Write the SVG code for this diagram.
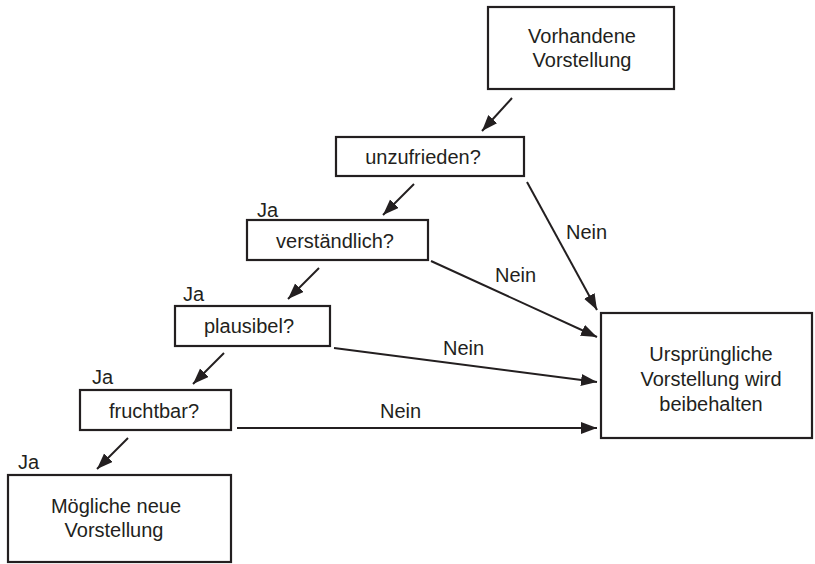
<svg xmlns="http://www.w3.org/2000/svg" width="815" height="564" viewBox="0 0 815 564">
<defs>
<marker id="ah" markerUnits="userSpaceOnUse" markerWidth="17" markerHeight="13" refX="16" refY="6" orient="auto">
<path d="M0,0 L16,6 L0,12 z" fill="#231f20"/>
</marker>
<style>
.box{fill:#fff;stroke:#231f20;stroke-width:2.2}
.t{font-family:"Liberation Sans",Arial,sans-serif;font-size:20px;fill:#231f20;text-anchor:middle}
.l{font-family:"Liberation Sans",Arial,sans-serif;font-size:20px;fill:#231f20}
.c{stroke:#231f20;stroke-width:2;fill:none;marker-end:url(#ah)}
</style>
</defs>
<rect width="815" height="564" fill="#fff"/>
<g id="vorhandene">
<rect class="box" x="488" y="7" width="186" height="82"/>
<text class="t" x="582" y="43">Vorhandene</text>
<text class="t" x="582" y="67">Vorstellung</text>
</g>
<g id="unzufrieden">
<rect class="box" x="336" y="137" width="188" height="39"/>
<text class="t" x="423" y="164">unzufrieden?</text>
</g>
<g id="verstaendlich">
<rect class="box" x="247" y="220" width="181" height="40"/>
<text class="l" x="257" y="217">Ja</text>
<text class="t" x="335" y="248">verständlich?</text>
</g>
<g id="plausibel">
<rect class="box" x="175" y="306" width="155" height="40"/>
<text class="l" x="183" y="301">Ja</text>
<text class="t" x="249" y="333">plausibel?</text>
</g>
<g id="fruchtbar">
<rect class="box" x="80" y="390" width="151" height="40"/>
<text class="l" x="92" y="384">Ja</text>
<text class="t" x="154" y="418">fruchtbar?</text>
</g>
<g id="moegliche">
<rect class="box" x="8" y="475" width="223" height="87"/>
<text class="l" x="18" y="469">Ja</text>
<text class="t" x="116" y="513">Mögliche neue</text>
<text class="t" x="114" y="537">Vorstellung</text>
</g>
<g id="urspruengliche">
<rect class="box" x="601" y="313" width="211" height="125"/>
<text class="t" x="711" y="361">Ursprüngliche</text>
<text class="t" x="711" y="386">Vorstellung wird</text>
<text class="t" x="711" y="411">beibehalten</text>
</g>
<g id="connectors">
<line class="c" x1="512" y1="98" x2="482" y2="131"/>
<line class="c" x1="414" y1="184" x2="383" y2="215"/>
<line class="c" x1="319" y1="268" x2="288" y2="299"/>
<line class="c" x1="224" y1="353" x2="193" y2="384"/>
<line class="c" x1="128" y1="438" x2="97" y2="469"/>
<line class="c" x1="527" y1="182" x2="597" y2="310"/>
<line class="c" x1="431" y1="261" x2="597" y2="337"/>
<line class="c" x1="334" y1="348" x2="597" y2="382"/>
<line class="c" x1="237" y1="428" x2="597" y2="428"/>
<text class="l" x="566" y="239">Nein</text>
<text class="l" x="495" y="282">Nein</text>
<text class="l" x="443" y="355">Nein</text>
<text class="l" x="380" y="418">Nein</text>
</g>
</svg>
